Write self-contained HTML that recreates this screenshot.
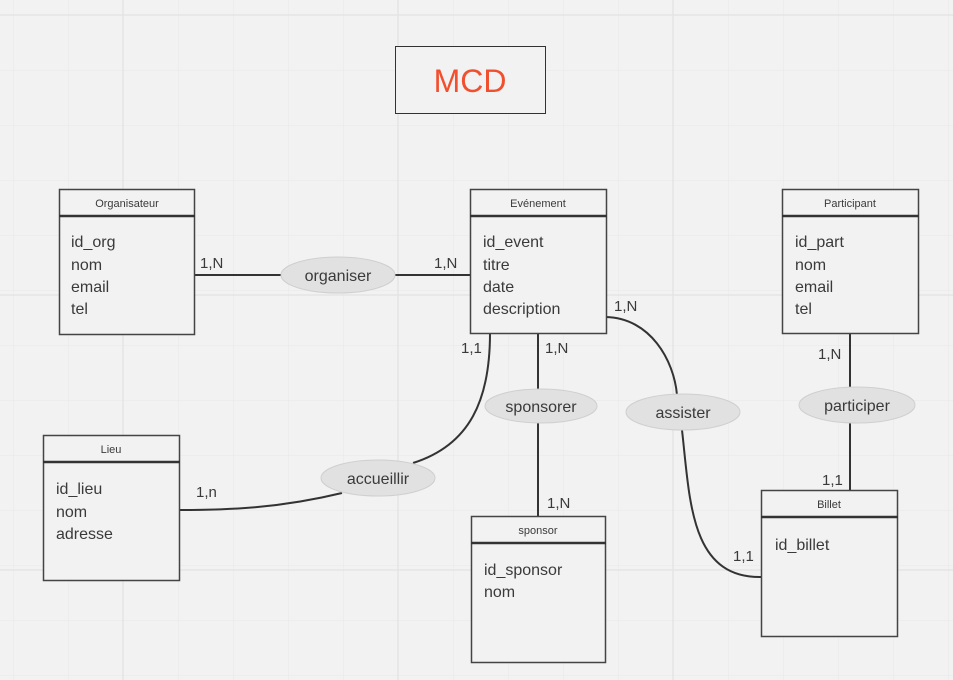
<!DOCTYPE html>
<html><head><meta charset="utf-8"><style>
html,body{margin:0;padding:0;background:#f2f2f2;}
svg{display:block;}
text{font-family:"Liberation Sans","DejaVu Sans",sans-serif;fill:#3a3a3a;}
</style></head><body>
<svg width="953" height="680" viewBox="0 0 953 680" xmlns="http://www.w3.org/2000/svg">
<defs>
<pattern id="g" x="13" y="15" width="55" height="55" patternUnits="userSpaceOnUse">
<path d="M0 0H55M0 0V55" stroke="#e8e8e8" stroke-width="1" fill="none"/>
</pattern>
</defs>
<rect width="953" height="680" fill="#f2f2f2"/>
<rect width="953" height="680" fill="url(#g)"/>
<g stroke="#e4e4e4" stroke-width="1.5">
<line x1="123" y1="0" x2="123" y2="680"/><line x1="398" y1="0" x2="398" y2="680"/><line x1="673" y1="0" x2="673" y2="680"/>
<line x1="0" y1="15" x2="953" y2="15"/><line x1="0" y1="295" x2="953" y2="295"/><line x1="0" y1="570" x2="953" y2="570"/>
</g>

<rect x="395.5" y="46.5" width="150" height="67" fill="#f2f2f2" stroke="#333" stroke-width="1"/>
<text x="470" y="92" font-size="32" text-anchor="middle" style="fill:#f1502f">MCD</text>

<g stroke="#333" stroke-width="2" fill="none">
<line x1="194" y1="275" x2="282" y2="275"/>
<line x1="394" y1="275" x2="470" y2="275"/>
<line x1="538" y1="333" x2="538" y2="389"/>
<line x1="538" y1="423" x2="538" y2="516"/>
<line x1="850" y1="333" x2="850" y2="387"/>
<line x1="850" y1="423" x2="850" y2="490"/>
<path d="M606 317 C650 318 674 360 677 395"/>
<path d="M682 430 C690 500 690 578 761 577"/>
<path d="M490 333 C490 400 470 445 413 463"/>
<path d="M342 493 C280 508 230 510 179 510"/>
</g>

<g fill="#e1e1e1" stroke="#cfcfcf" stroke-width="1">
<ellipse cx="338" cy="275" rx="57" ry="18"/>
<ellipse cx="541" cy="406" rx="56" ry="17"/>
<ellipse cx="683" cy="412" rx="57" ry="18"/>
<ellipse cx="857" cy="405" rx="58" ry="18"/>
<ellipse cx="378" cy="478" rx="57" ry="18"/>
</g>
<g font-size="16" text-anchor="middle">
<text x="338" y="281">organiser</text>
<text x="541" y="412">sponsorer</text>
<text x="683" y="418">assister</text>
<text x="857" y="411">participer</text>
<text x="378" y="484">accueillir</text>
</g>

<g fill="#f2f2f2" stroke="#444" stroke-width="1.5">
<rect x="59.5" y="189.5" width="135" height="145"/>
<rect x="470.5" y="189.5" width="136" height="144"/>
<rect x="782.5" y="189.5" width="136" height="144"/>
<rect x="43.5" y="435.5" width="136" height="145"/>
<rect x="471.5" y="516.5" width="134" height="146"/>
<rect x="761.5" y="490.5" width="136" height="146"/>
</g>
<g stroke="#333" stroke-width="2.5">
<line x1="59" y1="216" x2="195" y2="216"/>
<line x1="470" y1="216" x2="607" y2="216"/>
<line x1="782" y1="216" x2="919" y2="216"/>
<line x1="43" y1="462" x2="180" y2="462"/>
<line x1="471" y1="543" x2="606" y2="543"/>
<line x1="761" y1="517" x2="898" y2="517"/>
</g>
<g font-size="11" text-anchor="middle">
<text x="127" y="207">Organisateur</text>
<text x="538" y="207">Evénement</text>
<text x="850" y="207">Participant</text>
<text x="111" y="453">Lieu</text>
<text x="538" y="534">sponsor</text>
<text x="829" y="508">Billet</text>
</g>
<g font-size="16">
<text x="71" y="247">id_org</text><text x="71" y="270">nom</text><text x="71" y="292">email</text><text x="71" y="314">tel</text>
<text x="483" y="247">id_event</text><text x="483" y="270">titre</text><text x="483" y="292">date</text><text x="483" y="314">description</text>
<text x="795" y="247">id_part</text><text x="795" y="270">nom</text><text x="795" y="292">email</text><text x="795" y="314">tel</text>
<text x="56" y="494">id_lieu</text><text x="56" y="517">nom</text><text x="56" y="539">adresse</text>
<text x="484" y="575">id_sponsor</text><text x="484" y="597">nom</text>
<text x="775" y="550">id_billet</text>
</g>

<g font-size="15">
<text x="200" y="268">1,N</text>
<text x="434" y="268">1,N</text>
<text x="614" y="311">1,N</text>
<text x="461" y="353">1,1</text>
<text x="545" y="353">1,N</text>
<text x="818" y="359">1,N</text>
<text x="822" y="485">1,1</text>
<text x="547" y="508">1,N</text>
<text x="196" y="497">1,n</text>
<text x="733" y="561">1,1</text>
</g>
</svg>
</body></html>
